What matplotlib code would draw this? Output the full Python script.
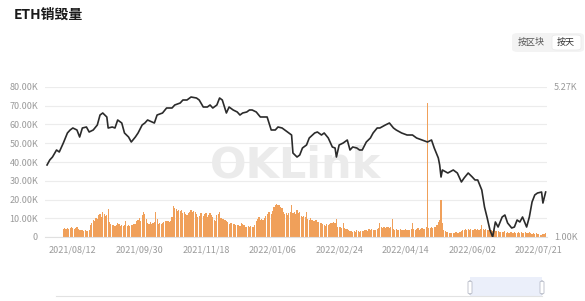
import numpy as np
import pandas as pd
import matplotlib
matplotlib.use("Agg")
from matplotlib import pyplot as plt
from matplotlib.patches import FancyBboxPatch, Rectangle
from matplotlib.ticker import FixedLocator, FuncFormatter

plt.rcParams['font.family'] = ['Noto Sans CJK SC', 'DejaVu Sans']

# daily axis starts 2021/07/24, burn starts 2021/08/05 (London fork)
start_date = "2021-07-24"
burn_start = "2021-08-05"

# ETH burned per day (thousand ETH), 2021/08/05 .. 2022/07/27
burn_k = [
    4.3, 4.6, 4.2, 4.8, 4.5, 4.9, 5.2, 4.6, 4.4, 5.0,
    5.5, 4.2, 3.9, 3.7, 3.5, 3.4, 3.6, 3.1, 3.3, 3.8,
    6.4, 7.5, 9.2, 8.6, 10.1, 9.8, 11.5, 12.4, 10.9, 13.2,
    12.5, 11.0, 11.8, 15.2, 8.2, 6.8, 6.2, 6.6, 5.9, 6.5,
    7.4, 6.9, 6.1, 6.6, 5.8, 6.4, 8.5, 6.0, 6.3, 5.7,
    6.5, 6.2, 6.8, 7.2, 8.8, 9.3, 10.2, 8.4, 11.6, 13.1,
    12.4, 9.8, 7.6, 7.2, 7.9, 6.8, 7.5, 8.1, 13.3, 9.5,
    7.2, 7.6, 6.9, 7.4, 7.8, 8.6, 8.3, 8.7, 7.9, 8.4,
    10.5, 16.3, 15.6, 15.2, 14.1, 14.6, 13.8, 14.3, 12.9, 13.6,
    12.1, 11.8, 12.9, 13.5, 14.2, 13.4, 14.0, 13.1, 12.3, 10.6,
    11.2, 12.6, 12.9, 11.4, 12.2, 13.0, 10.8, 11.5, 12.8, 11.9,
    10.5, 9.2, 8.8, 11.6, 12.4, 13.5, 10.2, 9.4, 9.8, 9.1,
    8.6, 7.8, 7.2, 7.6, 7.4, 6.9, 7.1, 6.5, 6.2, 6.6,
    6.1, 7.4, 7.0, 6.3, 5.6, 5.2, 5.8, 5.4, 5.9, 5.3,
    5.6, 6.2, 8.4, 9.8, 10.5, 9.1, 9.6, 8.9, 10.2, 11.4,
    12.1, 13.6, 13.2, 12.4, 13.9, 15.8, 17.2, 17.5, 16.9, 17.3,
    16.1, 15.7, 13.2, 12.4, 12.9, 11.8, 12.6, 13.4, 17.1, 12.8,
    13.3, 12.2, 14.6, 12.9, 13.5, 11.2, 10.9, 11.4, 10.6, 13.6,
    9.8, 9.3, 10.1, 9.0, 8.7, 8.4, 8.9, 7.8, 8.2, 7.5,
    7.6, 6.9, 6.4, 6.1, 6.7, 6.3, 7.2, 7.6, 7.4, 7.9,
    7.3, 9.7, 5.4, 5.1, 5.6, 5.0, 7.6, 4.6, 4.2, 4.5,
    3.9, 3.4, 3.1, 2.8, 3.3, 2.9, 3.6, 3.2, 2.7, 3.0,
    3.4, 3.1, 3.6, 3.9, 3.3, 4.1, 3.7, 4.2, 3.5, 3.8,
    4.0, 4.4, 4.8, 7.4, 5.2, 4.9, 5.5, 4.6, 5.1, 5.3,
    4.7, 5.6, 9.7, 4.4, 3.8, 4.1, 3.6, 3.9, 4.3, 3.7,
    3.5, 3.9, 4.2, 3.6, 4.0, 3.8, 4.5, 7.6, 4.3, 3.9,
    4.1, 4.6, 3.9, 4.4, 4.8, 4.2, 4.5, 5.2, 71.4, 5.0,
    4.7, 5.3, 4.9, 5.6, 5.1, 6.2, 8.1, 9.2, 19.7, 7.4,
    3.8, 3.3, 2.9, 2.6, 2.4, 2.1, 2.3, 2.0, 2.2, 2.5,
    2.3, 2.1, 2.6, 3.2, 3.8, 3.5, 4.1, 3.7, 4.3, 3.9,
    4.4, 3.6, 4.0, 4.5, 3.8, 4.2, 3.7, 4.1, 6.3, 4.2,
    3.9, 4.4, 3.6, 4.0, 3.5, 3.8, 3.2, 3.6, 3.3, 3.0,
    3.1, 2.8, 2.5, 2.9, 2.6, 3.0, 2.4, 2.7, 2.3, 2.8,
    2.6, 2.2, 2.9, 2.4, 2.1, 2.7, 2.3, 2.5, 2.0, 2.4,
    2.8, 2.2, 1.9, 2.5, 2.1, 1.8, 2.3, 1.7, 2.0, 1.6,
    1.5, 1.3, 1.2, 1.4, 1.8, 2.0,
]

# ETH price (USD), sampled: day offset from start_date -> price
price_day = [
    0, 2, 4, 7, 9, 12, 15, 17, 19, 22, 24, 26, 29, 31, 34, 37, 39, 41, 44, 45,
    48, 50, 52, 55, 57, 60, 62, 65, 67, 70, 72, 74, 79, 81, 85, 88, 92, 94, 98, 100,
    103, 106, 110, 112, 115, 118, 120, 122, 125, 127, 129, 132, 134, 137, 140, 142, 144, 147, 149, 151,
    154, 157, 160, 162, 165, 168, 170, 173, 177, 180, 181, 184, 186, 188, 191, 193, 197, 199, 202, 204,
    207, 210, 212, 213, 215, 218, 221, 223, 225, 228, 230, 232, 235, 238, 240, 243, 245, 249, 252, 255,
    257, 261, 265, 269, 272, 276, 280, 283, 285, 288, 289, 290, 291, 295, 299, 302, 305, 307, 310, 313,
    315, 317, 320, 322, 324, 326, 328, 330, 332, 335, 337, 339, 342, 344, 346, 348, 350, 353, 355, 357,
    359, 361, 364, 365, 367,
]
price_usd = [
    2221, 2347, 2426, 2622, 2565, 2834, 3166, 3273, 3346, 3273, 3028, 3346, 3383, 3201, 3273, 3459, 3864, 3951, 3780, 3346,
    3383, 3346, 3656, 3536, 3166, 3028, 2865, 3028, 3166, 3459, 3536, 3656, 3536, 3864, 3951, 4176, 4176, 4317, 4413, 4563,
    4563, 4717, 4665, 4563, 4222, 4222, 4317, 4176, 4317, 4665, 4563, 3951, 4222, 4085, 3995, 3864, 3951, 3995, 4085, 4085,
    3995, 3780, 3780, 3780, 3273, 3273, 3383, 3346, 3201, 3096, 2536, 2426, 2481, 2681, 2772, 2995, 3166, 3201, 3096, 3166,
    2995, 2711, 2681, 2426, 2772, 2834, 2929, 2622, 2711, 2681, 2622, 2622, 2865, 2995, 3166, 3346, 3346, 3459, 3536, 3346,
    3273, 3166, 3096, 3096, 2995, 2929, 2865, 2929, 2681, 2400, 2221, 1944, 2101, 2032, 2101, 2032, 1840, 1923, 2032, 1944,
    1881, 1881, 1683, 1394, 1234, 1081, 1000, 1181, 1117, 1248, 1276, 1168, 1105, 1117, 1207, 1181, 1248, 1117, 1248, 1474,
    1593, 1628, 1646, 1457, 1646,
]

tick_dates = ["2021/08/12", "2021/09/30", "2021/11/18", "2022/01/06",
              "2022/02/24", "2022/04/14", "2022/06/02", "2022/07/21"]

t0 = pd.Timestamp(start_date)
bar_x = (pd.Timestamp(burn_start) - t0).days + np.arange(len(burn_k))
tick_x = [(pd.Timestamp(d) - t0).days for d in tick_dates]

fig = plt.figure(figsize=(5.85, 3.01), dpi=100)
ax = fig.add_axes([45 / 585, 1 - 237 / 301, 502 / 585, 150 / 301])

ax.bar(bar_x, np.array(burn_k) * 1000, width=0.85, color="#f0a05a", linewidth=0, zorder=2)
ax.set_ylim(0, 80000)
ax.set_xlim(-1.5, 368)
ax.yaxis.set_major_locator(FixedLocator(np.arange(0, 80001, 10000)))
ax.yaxis.set_major_formatter(FuncFormatter(lambda v, p: "0" if v == 0 else "%.2fK" % (v / 1000)))
ax.grid(axis="y", color="#ececec", linewidth=0.8, zorder=0)
ax.set_axisbelow(True)
ax.set_xticks(tick_x)
ax.set_xticklabels(tick_dates)
ax.tick_params(axis="both", length=0, labelsize=6.5, colors="#9a9a9a")
ax.tick_params(axis="x", pad=6)
ax.tick_params(axis="y", pad=5)
for s in ["top", "right", "left"]:
    ax.spines[s].set_visible(False)
ax.spines["bottom"].set_color("#e0e0e0")

ax2 = ax.twinx()
ax2.plot(price_day, price_usd, color="#2b2b2b", linewidth=1.2, zorder=3)
ax2.set_yscale("log")
ax2.set_ylim(1000, 5270)
ax2.yaxis.set_major_locator(FixedLocator([1000, 5270]))
ax2.yaxis.set_minor_locator(FixedLocator([]))
ax2.yaxis.set_major_formatter(FuncFormatter(lambda v, p: "%.2fK" % (v / 1000)))
ax2.tick_params(axis="y", length=0, labelsize=6.5, colors="#9a9a9a", pad=5)
for s in ax2.spines.values():
    s.set_visible(False)

# watermark
ax.text(0.5, 0.48, "OKLink", transform=ax.transAxes, ha="center", va="center",
        fontsize=31, fontweight="bold", color="#ebebeb", zorder=1,
        family=["DejaVu Sans"])

# title and buttons
fig.text(14 / 585, 1 - 15 / 301, "ETH销毁量", fontsize=10, fontweight="bold",
         color="#1a1a1a", va="center", ha="left")
fig.patches.append(FancyBboxPatch((512 / 585, 1 - 52 / 301), 72 / 585, 19 / 301,
                                  boxstyle="round,pad=0,rounding_size=0.01",
                                  transform=fig.transFigure, fc="#f3f3f3", ec="none"))
fig.patches.append(FancyBboxPatch((552 / 585, 1 - 50 / 301), 29 / 585, 15 / 301,
                                  boxstyle="round,pad=0,rounding_size=0.008",
                                  transform=fig.transFigure, fc="white", ec="#e8e8e8", lw=0.5))
fig.text(531 / 585, 1 - 42.5 / 301, "按区块", fontsize=6.5, color="#555555", ha="center", va="center")
fig.text(566 / 585, 1 - 42.5 / 301, "按天", fontsize=6.5, color="#333333", ha="center", va="center")

# data zoom slider
fig.add_artist(plt.Line2D([56 / 585, 542 / 585], [1 - 296 / 301, 1 - 296 / 301],
                          transform=fig.transFigure, color="#e2e2e2", lw=0.8))
fig.patches.append(Rectangle((470 / 585, 1 - 297 / 301), 72 / 585, 20 / 301,
                             transform=fig.transFigure, fc="#e9eefa", ec="none", alpha=0.9))
for hx in [470, 542]:
    fig.patches.append(FancyBboxPatch(((hx - 2) / 585, 1 - 294 / 301), 4 / 585, 13 / 301,
                                      boxstyle="round,pad=0,rounding_size=0.004",
                                      transform=fig.transFigure, fc="white", ec="#b8bcc8", lw=0.6))

fig.savefig("out.png", dpi=100)
